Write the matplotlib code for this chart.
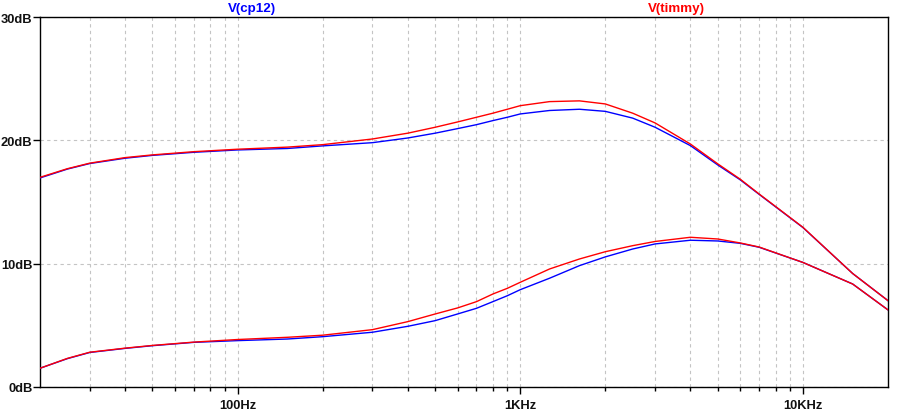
import numpy as np
import matplotlib
matplotlib.use("Agg")
import matplotlib.pyplot as plt
from matplotlib.ticker import FixedLocator, NullFormatter, FixedFormatter

freq = [20, 25, 30, 40, 50, 70, 100, 150, 200, 300, 400, 500, 600, 700, 800, 900,
        1000, 1270, 1620, 2000, 2500, 3000, 4000, 5000, 6000, 7000, 10000, 15000, 20000]

upper_timmy = [17.0, 17.7, 18.15, 18.6, 18.82, 19.08, 19.28, 19.45, 19.65, 20.11, 20.58,
               21.06, 21.49, 21.87, 22.2, 22.52, 22.81, 23.14, 23.2, 22.95, 22.2, 21.41,
               19.7, 18.09, 16.85, 15.65, 12.95, 9.2, 7.0]
upper_cp12 = [16.95, 17.67, 18.12, 18.55, 18.78, 19.03, 19.22, 19.34, 19.55, 19.81, 20.19,
              20.58, 20.95, 21.27, 21.6, 21.87, 22.14, 22.42, 22.52, 22.35, 21.8, 21.06,
              19.57, 18.0, 16.8, 15.62, 12.93, 9.2, 7.0]
lower_timmy = [1.52, 2.32, 2.82, 3.15, 3.37, 3.64, 3.85, 4.03, 4.2, 4.65, 5.3, 5.92, 6.41,
               6.92, 7.54, 8.0, 8.49, 9.57, 10.38, 10.97, 11.46, 11.8, 12.14, 12.0, 11.68,
               11.35, 10.1, 8.35, 6.25]
lower_cp12 = [1.52, 2.3, 2.8, 3.13, 3.35, 3.62, 3.76, 3.89, 4.08, 4.44, 4.92, 5.38, 5.92,
              6.38, 6.92, 7.4, 7.89, 8.82, 9.84, 10.55, 11.19, 11.6, 11.9, 11.84, 11.65,
              11.33, 10.1, 8.35, 6.25]

y_ticks = [0, 10, 20, 30]
y_labels = ["0dB", "10dB", "20dB", "30dB"]
x_major = [100, 1000, 10000]
x_labels = ["100Hz", "1KHz", "10KHz"]
trace_names = ["V(cp12)", "V(timmy)"]

BLUE = "#0000ff"
RED = "#ff0000"
FONT = ["Liberation Sans", "DejaVu Sans"]

fig = plt.figure(figsize=(9, 4.14), dpi=100)
W, H = 900, 414
ax = fig.add_axes([40 / W, 1 - 388 / H, (888 - 40) / W, (388 - 18) / H])

ax.plot(freq, upper_cp12, color=BLUE, lw=1.0, zorder=3)
ax.plot(freq, lower_cp12, color=BLUE, lw=1.0, zorder=3)
ax.plot(freq, upper_timmy, color=RED, lw=1.0, zorder=4)
ax.plot(freq, lower_timmy, color=RED, lw=1.0, zorder=4)

ax.set_xscale("log")
ax.set_xlim(20, 20000)
ax.set_ylim(0, 30)

minor = [m * d for d in (10, 100, 1000) for m in range(2, 10) if 20 < m * d < 20000]
ax.xaxis.set_major_locator(FixedLocator(x_major))
ax.xaxis.set_major_formatter(FixedFormatter(x_labels))
ax.xaxis.set_minor_locator(FixedLocator(minor))
ax.xaxis.set_minor_formatter(NullFormatter())
ax.yaxis.set_major_locator(FixedLocator(y_ticks))
ax.yaxis.set_major_formatter(FixedFormatter(y_labels))
ax.yaxis.set_minor_locator(FixedLocator([]))

ax.tick_params(axis="both", which="major", direction="out", length=5, width=1.0,
               color="black", pad=0.5)
ax.tick_params(axis="x", which="major", pad=4)
ax.tick_params(axis="x", which="minor", direction="out", length=3, width=1.0,
               color="black")
for lab in ax.get_xticklabels() + ax.get_yticklabels():
    lab.set_family(FONT)
    lab.set_fontweight("bold")
    lab.set_fontsize(9.3)
    lab.set_color("#111111")

ax.grid(True, which="both", axis="x", color="#c4c4c4", lw=0.8,
        linestyle=(0, (3, 3)), zorder=1)
ax.grid(True, which="major", axis="y", color="#c4c4c4", lw=0.8,
        linestyle=(0, (3, 3)), zorder=1)
ax.set_axisbelow(True)

for s in ax.spines.values():
    s.set_color("black")
    s.set_linewidth(1.0)

fig.text(252 / W, 1 - 9 / H, trace_names[0], color=BLUE, ha="center", va="center",
         fontsize=9.6, fontweight="bold", family=FONT)
fig.text(676 / W, 1 - 9 / H, trace_names[1], color=RED, ha="center", va="center",
         fontsize=9.6, fontweight="bold", family=FONT)

fig.savefig("out.png", dpi=100, facecolor="white")
